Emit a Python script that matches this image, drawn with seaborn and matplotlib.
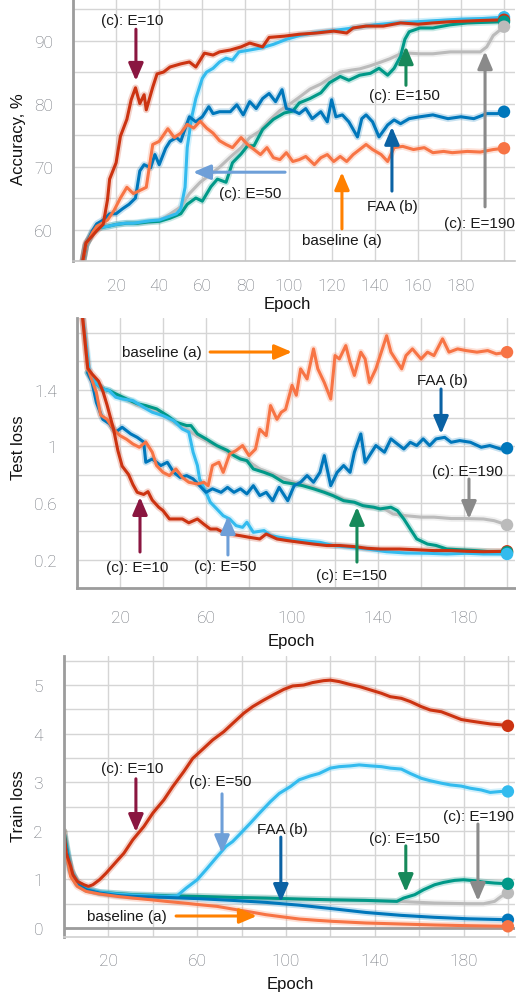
import numpy as np
import pandas as pd
import matplotlib
matplotlib.use("Agg")
import matplotlib.pyplot as plt
import seaborn as sns

# ---------------- data ----------------
SERIES = ["(c): E=190", "(c): E=150", "(c): E=50", "FAA (b)", "baseline (a)", "(c): E=10"]
COLORS = {"(c): E=190": "#BBBBBB", "(c): E=150": "#009988", "(c): E=50": "#33BBEE",
          "FAA (b)": "#0077BB", "baseline (a)": "#F77445", "(c): E=10": "#CC3311"}

# Accuracy (%)
acc_base_ep = [3, 6, 9, 11, 16, 19, 22, 25, 28, 31, 34, 37, 40, 44, 47, 50, 53, 56, 59, 62, 65, 68, 71, 74, 78, 81, 84, 87, 90, 93, 96, 99, 102, 105, 108, 112, 115, 118, 121, 124, 127, 130, 133, 136, 139, 143, 146, 149, 153, 158, 163, 167, 172, 176, 183, 189, 195, 200]
acc_base = [52, 57.5, 59.5, 60.5, 61.5, 63, 65, 66.7, 65.7, 66.2, 66.7, 73.5, 74, 76, 74.6, 75.3, 76.7, 76.1, 77.2, 76.1, 75.3, 74.1, 73.5, 73, 74.6, 73.5, 72.7, 71.9, 73, 71.4, 71.1, 72.2, 70.8, 71.1, 71.6, 70.3, 71.4, 71.9, 70.8, 71.6, 70.8, 71.9, 72.7, 73.5, 72.7, 71.9, 70.8, 73, 73.2, 72.7, 73, 72.2, 72.4, 72.2, 72.4, 72.3, 72.7, 72.9]
acc_faa_ep = [3, 6, 9, 11, 14, 17, 20, 23, 26, 29, 31, 33, 36, 38, 40, 43, 45, 48, 50, 52, 54, 57, 60, 63, 65, 68, 73, 76, 79, 82, 85, 88, 91, 94, 97, 99, 102, 105, 108, 111, 115, 118, 120, 122, 125, 128, 132, 134, 136, 139, 142, 146, 149, 152, 156, 161, 167, 174, 180, 186, 192, 197, 200]
acc_faa = [52, 57.5, 59.8, 60.9, 61.5, 62.5, 62.5, 63.3, 64, 65, 69.3, 70.3, 69.8, 71.9, 70.3, 72.9, 74, 74.6, 74, 76, 77.9, 77.1, 77.9, 79.5, 78.4, 78.7, 78.7, 79.8, 78.2, 80.3, 79.2, 80.8, 81.6, 80.3, 82.2, 79.2, 78.9, 78.4, 79.2, 77.6, 78.7, 77.1, 80.6, 77.9, 78.2, 77.1, 74.7, 77.6, 78.2, 77.1, 74.7, 76.6, 77.4, 76.8, 77.6, 77.9, 78.2, 77.6, 77.9, 77.6, 78.4, 78.4, 78.7]
acc_e10_ep = [3, 6, 9, 11, 14, 16, 17, 20, 22, 25, 27, 29, 31, 33, 34, 37, 39, 42, 45, 50, 54, 57, 61, 65, 68, 73, 78, 82, 88, 91, 98, 105, 113, 121, 127, 130, 136, 144, 152, 160, 167, 175, 183, 190, 200]
acc_e10 = [52, 57.9, 59, 59.8, 60.8, 64.7, 68, 70.6, 74.8, 77.5, 80.6, 82.5, 80, 81.4, 79, 82.6, 84.7, 85, 85.8, 86.3, 86.6, 85.8, 88, 87.7, 88.2, 88.5, 89, 89.6, 89, 90.5, 90.7, 91, 91.2, 91.5, 91.2, 92, 92.3, 92.3, 92.8, 92.6, 92.8, 93, 93.1, 93.2, 93.3]
acc_e50_ep = [3, 6, 9, 12, 16, 20, 24, 28, 32, 36, 40, 44, 48, 50, 52, 53, 55, 57, 60, 62, 65, 68, 71, 74, 77, 82, 87, 93, 99, 105, 113, 121, 130, 140, 150, 160, 170, 180, 190, 200]
acc_e50 = [52, 57.5, 59.5, 60.3, 60.5, 60.8, 61, 61, 61.2, 61.4, 61.5, 62, 62.5, 63.3, 66.7, 73, 77.7, 80.8, 84, 85, 85.6, 86.6, 87.2, 86.9, 88.2, 88.5, 88.8, 89.4, 90.2, 90.8, 91.3, 91.6, 92, 92.5, 92.8, 93, 93.2, 93.4, 93.5, 93.7]
acc_e150_ep = [3, 6, 9, 12, 16, 20, 25, 30, 35, 40, 45, 50, 53, 57, 60, 64, 67, 71, 74, 78, 81, 84, 88, 93, 98, 102, 105, 110, 115, 119, 124, 128, 133, 138, 142, 146, 149, 152, 154, 156, 161, 167, 175, 183, 200]
acc_e150 = [52, 57.5, 59.5, 60.3, 60.5, 60.8, 61, 61, 61.2, 61.3, 61.8, 62.5, 64, 65, 64.5, 66.8, 68, 67.5, 70.6, 72, 73.3, 73.3, 75.9, 77.5, 78.5, 78.8, 80.1, 80.8, 81.7, 83.3, 84.3, 83.7, 84.5, 84.8, 85.6, 84.5, 85.6, 87.5, 90.2, 91.4, 92, 92, 92.5, 92.8, 93]
acc_e190_ep = [3, 6, 9, 12, 16, 20, 25, 30, 35, 40, 43, 50, 54, 59, 64, 68, 73, 78, 82, 87, 91, 96, 101, 105, 110, 115, 119, 124, 129, 133, 138, 143, 147, 152, 156, 161, 167, 175, 183, 189, 192, 195, 200]
acc_e190 = [52, 57.5, 59.5, 60.3, 60.5, 60.8, 61, 61, 61.2, 61.4, 62, 63.6, 65.7, 67.5, 68.8, 69.9, 71.5, 73, 74.6, 75.7, 77.3, 78.9, 80, 81, 82.3, 83.1, 84, 85, 85.3, 85.5, 86, 86.6, 87.1, 87.9, 88, 87.9, 87.9, 88.2, 88.2, 88.2, 89, 90.8, 92.2]

# Test loss
tl_base_ep = [2, 5, 9, 11, 14, 17, 20, 23, 26, 29, 32, 35, 37, 40, 43, 46, 49, 52, 56, 59, 61, 63, 66, 68, 71, 74, 77, 80, 83, 85, 88, 90, 93, 95, 97, 100, 102, 104, 107, 110, 112, 115, 118, 120, 122, 125, 127, 129, 132, 134, 136, 139, 141, 144, 146, 149, 151, 153, 156, 160, 163, 166, 170, 173, 177, 181, 186, 191, 195, 200]
tl_base = [2.0, 1.55, 1.38, 1.22, 1.19, 1.12, 1.075, 1.05, 1.016, 0.993, 1.03, 0.958, 0.864, 0.816, 0.793, 0.84, 0.78, 0.746, 0.734, 0.746, 0.722, 0.864, 0.887, 0.816, 0.946, 0.97, 1.005, 0.934, 0.98, 1.12, 1.075, 1.287, 1.19, 1.24, 1.26, 1.43, 1.36, 1.546, 1.475, 1.687, 1.546, 1.45, 1.334, 1.64, 1.616, 1.71, 1.593, 1.5, 1.664, 1.616, 1.45, 1.546, 1.64, 1.78, 1.664, 1.593, 1.546, 1.64, 1.687, 1.616, 1.664, 1.64, 1.758, 1.664, 1.687, 1.675, 1.664, 1.675, 1.652, 1.664]
tl_faa_ep = [5, 7, 9, 12, 15, 18, 21, 25, 28, 31, 32, 35, 39, 42, 45, 48, 51, 54, 57, 60, 63, 67, 70, 73, 76, 79, 82, 85, 88, 91, 94, 98, 101, 104, 107, 110, 113, 115, 118, 121, 124, 127, 129, 132, 134, 136, 139, 143, 146, 149, 152, 155, 158, 161, 164, 167, 171, 174, 178, 183, 188, 192, 197, 200]
tl_faa = [1.52, 1.45, 1.31, 1.19, 1.16, 1.1, 1.134, 1.087, 1.063, 1.03, 0.887, 0.91, 0.864, 0.887, 0.816, 0.78, 0.793, 0.77, 0.722, 0.675, 0.7, 0.675, 0.71, 0.675, 0.7, 0.664, 0.722, 0.652, 0.675, 0.616, 0.71, 0.616, 0.722, 0.746, 0.793, 0.746, 0.816, 0.934, 0.722, 0.816, 0.864, 0.816, 0.958, 1.087, 0.887, 0.934, 1.005, 0.958, 1.052, 1.016, 0.981, 1.028, 1.005, 1.052, 1.005, 1.052, 1.063, 1.028, 1.04, 1.028, 0.993, 1.005, 0.981, 0.986]
tl_e10_ep = [2, 5, 7, 10, 12, 14, 17, 19, 21, 24, 26, 28, 31, 33, 35, 38, 40, 43, 46, 49, 52, 56, 59, 62, 65, 68, 71, 76, 80, 85, 88, 93, 98, 104, 110, 116, 122, 129, 135, 141, 150, 158, 166, 174, 181, 189, 200]
tl_e10 = [2.0, 1.55, 1.51, 1.46, 1.39, 1.29, 1.12, 0.97, 0.86, 0.80, 0.73, 0.675, 0.66, 0.68, 0.62, 0.57, 0.546, 0.487, 0.487, 0.487, 0.46, 0.487, 0.45, 0.416, 0.416, 0.393, 0.381, 0.369, 0.358, 0.346, 0.381, 0.346, 0.334, 0.322, 0.31, 0.30, 0.30, 0.292, 0.28, 0.275, 0.275, 0.27, 0.264, 0.264, 0.259, 0.256, 0.259]
tl_e50_ep = [2, 6, 9, 12, 15, 18, 21, 26, 31, 35, 40, 45, 49, 52, 54, 56, 57, 60, 62, 65, 68, 71, 74, 77, 79, 82, 87, 90, 94, 99, 105, 113, 119, 127, 135, 144, 153, 163, 172, 181, 189, 200]
tl_e50 = [2.0, 1.5, 1.44, 1.405, 1.393, 1.346, 1.334, 1.322, 1.275, 1.24, 1.216, 1.18, 1.122, 1.1, 0.958, 0.864, 0.77, 0.675, 0.605, 0.558, 0.51, 0.487, 0.44, 0.428, 0.464, 0.393, 0.405, 0.37, 0.358, 0.346, 0.334, 0.322, 0.30, 0.287, 0.275, 0.256, 0.247, 0.245, 0.24, 0.245, 0.24, 0.24]
tl_e150_ep = [5, 9, 12, 15, 18, 23, 28, 32, 37, 42, 46, 51, 53, 56, 60, 65, 70, 73, 76, 79, 82, 87, 91, 96, 101, 105, 110, 115, 119, 124, 129, 133, 138, 141, 146, 149, 152, 155, 158, 163, 167, 172, 178, 185, 192, 200]
tl_e150 = [1.52, 1.44, 1.405, 1.393, 1.37, 1.334, 1.3, 1.287, 1.264, 1.216, 1.17, 1.146, 1.146, 1.087, 1.052, 1.005, 0.97, 0.934, 0.91, 0.899, 0.84, 0.816, 0.793, 0.746, 0.734, 0.722, 0.7, 0.675, 0.652, 0.616, 0.605, 0.581, 0.57, 0.558, 0.57, 0.546, 0.487, 0.416, 0.346, 0.31, 0.30, 0.275, 0.27, 0.264, 0.256, 0.252]
tl_e190_ep = [5, 9, 12, 15, 18, 23, 28, 32, 37, 42, 46, 51, 56, 60, 65, 70, 75, 80, 85, 90, 95, 100, 105, 110, 115, 120, 125, 130, 135, 143, 147, 153, 160, 166, 174, 181, 189, 194, 200]
tl_e190 = [1.52, 1.44, 1.40, 1.39, 1.36, 1.33, 1.29, 1.27, 1.25, 1.20, 1.16, 1.12, 1.07, 1.04, 1.0, 0.96, 0.92, 0.89, 0.84, 0.81, 0.78, 0.75, 0.73, 0.71, 0.68, 0.65, 0.62, 0.60, 0.57, 0.558, 0.522, 0.51, 0.50, 0.50, 0.49, 0.49, 0.487, 0.475, 0.445]

# Train loss
tr_base_ep = [0, 3, 6, 10, 16, 24, 31, 39, 46, 54, 61, 69, 76, 84, 91, 99, 106, 114, 121, 136, 152, 167, 182, 200]
tr_base = [1.78, 1.06, 0.856, 0.753, 0.70, 0.65, 0.616, 0.582, 0.548, 0.514, 0.48, 0.445, 0.39, 0.33, 0.274, 0.226, 0.185, 0.158, 0.137, 0.103, 0.082, 0.062, 0.048, 0.035]
tr_faa_ep = [0, 3, 6, 10, 16, 24, 31, 46, 61, 76, 91, 106, 121, 136, 152, 167, 182, 200]
tr_faa = [1.88, 1.16, 0.9, 0.79, 0.72, 0.67, 0.65, 0.63, 0.603, 0.568, 0.527, 0.47, 0.397, 0.32, 0.26, 0.22, 0.19, 0.17]
tr_e10_ep = [0, 1, 3, 4, 6, 9, 11, 13, 16, 19, 23, 27, 31, 36, 40, 45, 49, 54, 58, 63, 67, 72, 76, 81, 85, 90, 94, 99, 103, 108, 112, 117, 120, 124, 129, 133, 138, 143, 147, 152, 156, 161, 165, 170, 174, 179, 183, 188, 192, 197, 200]
tr_e10 = [1.99, 1.54, 1.27, 1.1, 0.96, 0.89, 0.856, 0.89, 0.993, 1.13, 1.336, 1.54, 1.815, 2.09, 2.363, 2.637, 2.91, 3.22, 3.49, 3.7, 3.87, 4.04, 4.21, 4.42, 4.555, 4.69, 4.79, 4.91, 4.98, 5.0, 5.05, 5.09, 5.1, 5.07, 5.01, 4.97, 4.9, 4.83, 4.76, 4.726, 4.66, 4.555, 4.486, 4.45, 4.38, 4.29, 4.26, 4.226, 4.2, 4.18, 4.16]
tr_e50_ep = [0, 3, 6, 10, 16, 24, 31, 39, 46, 51, 55, 60, 64, 69, 73, 76, 79, 84, 88, 93, 97, 102, 106, 111, 115, 120, 124, 129, 133, 138, 143, 147, 152, 156, 161, 165, 170, 174, 179, 183, 188, 192, 197, 200]
tr_e50 = [1.88, 1.2, 0.92, 0.8, 0.733, 0.70, 0.678, 0.664, 0.65, 0.664, 0.82, 0.993, 1.2, 1.47, 1.68, 1.78, 1.92, 2.16, 2.36, 2.6, 2.77, 2.91, 3.05, 3.13, 3.18, 3.29, 3.32, 3.336, 3.356, 3.336, 3.32, 3.29, 3.27, 3.18, 3.08, 3.03, 2.98, 2.945, 2.92, 2.877, 2.84, 2.79, 2.81, 2.81]
tr_e150_ep = [0, 3, 6, 10, 16, 31, 46, 61, 76, 91, 106, 121, 136, 150, 153, 158, 162, 167, 171, 176, 180, 185, 189, 194, 200]
tr_e150 = [1.99, 1.2, 0.92, 0.8, 0.733, 0.685, 0.664, 0.65, 0.63, 0.616, 0.596, 0.58, 0.568, 0.548, 0.616, 0.685, 0.788, 0.89, 0.938, 0.98, 0.993, 0.973, 0.945, 0.925, 0.91]
tr_e190_ep = [0, 3, 6, 10, 16, 31, 46, 61, 76, 91, 106, 121, 136, 150, 167, 182, 189, 194, 197, 200]
tr_e190 = [1.99, 1.2, 0.92, 0.8, 0.733, 0.685, 0.664, 0.65, 0.63, 0.616, 0.596, 0.58, 0.568, 0.548, 0.514, 0.50, 0.50, 0.548, 0.65, 0.72]

x_ticks = [0, 20, 40, 60, 80, 100, 120, 140, 160, 180, 200]
acc_xlabels = ["", "20", "40", "60", "80", "100", "120", "140", "160", "180", ""]
loss_xlabels = ["", "20", "", "60", "", "100", "", "140", "", "180", ""]
acc_yticks = [55, 60, 65, 70, 75, 80, 85, 90, 95]
acc_ylabels = ["", "60", "", "70", "", "80", "", "90", ""]
tl_yticks = [0, 0.2, 0.4, 0.6, 0.8, 1.0, 1.2, 1.4, 1.6, 1.8]
tl_ylabels = ["", "0.2", "", "0.6", "", "1", "", "1.4", "", ""]
tr_yticks = [0, 0.5, 1, 1.5, 2, 2.5, 3, 3.5, 4, 4.5, 5, 5.5]
tr_ylabels = ["0", "", "1", "", "2", "", "3", "", "4", "", "5", ""]


def frame(pairs):
    rows = []
    for name, (ep, val) in zip(SERIES, pairs):
        for e, v in zip(ep, val):
            rows.append((name, e, v))
    return pd.DataFrame(rows, columns=["series", "epoch", "value"])


acc_df = frame([(acc_e190_ep, acc_e190), (acc_e150_ep, acc_e150), (acc_e50_ep, acc_e50),
                (acc_faa_ep, acc_faa), (acc_base_ep, acc_base), (acc_e10_ep, acc_e10)])
tl_df = frame([(tl_e190_ep, tl_e190), (tl_e150_ep, tl_e150), (tl_e50_ep, tl_e50),
               (tl_faa_ep, tl_faa), (tl_base_ep, tl_base), (tl_e10_ep, tl_e10)])
tr_df = frame([(tr_e190_ep, tr_e190), (tr_e150_ep, tr_e150), (tr_e50_ep, tr_e50),
               (tr_faa_ep, tr_faa), (tr_base_ep, tr_base), (tr_e10_ep, tr_e10)])

# ---------------- style ----------------
sns.set_theme(style="white")
plt.rcParams["font.family"] = ["Liberation Sans", "DejaVu Sans"]

GRID = "#d5d5d5"
SPINE = "#9c9c9c"
TICKC = "#6c7078"
PX = 72 / 100.0  # pixel -> point at dpi 100

fig = plt.figure(figsize=(5.16, 9.95), dpi=100)
W, H = 516.0, 995.0


def add_ax(left, top, right, bottom):
    return fig.add_axes([left / W, (H - bottom) / H, (right - left) / W, (bottom - top) / H])


def draw(ax, df):
    sns.lineplot(data=df, x="epoch", y="value", hue="series", hue_order=SERIES,
                 palette=COLORS, estimator=None, lw=4.8, alpha=0.22, legend=False, ax=ax)
    sns.lineplot(data=df, x="epoch", y="value", hue="series", hue_order=SERIES,
                 palette=COLORS, estimator=None, lw=2.2, legend=False, ax=ax)
    last = df.sort_values("epoch").groupby("series", sort=False).tail(1)
    sns.scatterplot(data=last, x="epoch", y="value", hue="series", hue_order=SERIES,
                    palette=COLORS, s=80, edgecolor="none", legend=False, ax=ax,
                    zorder=6, clip_on=False)


def style(ax, xlim, ylim, xlabels, yticks, ylabels, xtl, ytl, xpad, ypad, bottom_dark):
    ax.set_xlim(*xlim)
    ax.set_ylim(*ylim)
    ax.set_xticks(x_ticks)
    ax.set_xticklabels(xlabels)
    ax.set_yticks(yticks)
    ax.set_yticklabels(ylabels)
    ax.grid(True, color=GRID, lw=1.0)
    ax.set_axisbelow(True)
    for s in ["top", "right"]:
        ax.spines[s].set_visible(False)
    ax.spines["left"].set_color(SPINE)
    ax.spines["left"].set_linewidth(2.0)
    ax.spines["bottom"].set_color(SPINE if bottom_dark else "#c4c4c4")
    ax.spines["bottom"].set_linewidth(2.0 if bottom_dark else 1.2)
    ax.tick_params(axis="x", length=xtl * PX, width=1.0, color=GRID, pad=xpad * PX,
                   labelcolor=TICKC, labelsize=12.5)
    ax.tick_params(axis="y", length=ytl * PX, width=1.0, color=GRID, pad=ypad * PX,
                   labelcolor=TICKC, labelsize=12.5)
    for lab in ax.get_xticklabels() + ax.get_yticklabels():
        lab.set_family(["Roboto", "DejaVu Sans"])
        lab.set_fontweight("light")


def arrow(ax, tail, tip, color):
    ax.annotate("", xy=tip, xytext=tail,
                arrowprops=dict(arrowstyle="-|>,head_length=0.75,head_width=0.32",
                                color=color, lw=2.2, shrinkA=0, shrinkB=0,
                                mutation_scale=14), zorder=8)


def label(ax, x, y, s):
    ax.text(x, y, s, ha="center", va="center", fontsize=11, color="#1a1a1a", zorder=9)


C_E10, C_E50, C_E150, C_BASE, C_FAA, C_E190 = "#8a1640", "#6e9fd8", "#17895a", "#ff8000", "#0b62a4", "#8a8a8a"

# ---------------- panel 1: accuracy ----------------
ax1 = add_ax(73, 0, 515, 262)
draw(ax1, acc_df)
style(ax1, (0, 205.1), (55, 96.6), acc_xlabels, acc_yticks, acc_ylabels, 10, 11, 7, 9, False)
ax1.set_xlabel("Epoch", fontsize=12, color="#111111")
ax1.set_ylabel("Accuracy, %", fontsize=12, color="#111111")
ax1.xaxis.set_label_coords(0.484, -0.135)
ax1.yaxis.set_label_coords((26 - 73) / 442.0, 0.469)
label(ax1, 27.4, 93.25, "(c): E=10");   arrow(ax1, (29.2, 91.8), (29.2, 83.6), C_E10)
label(ax1, 154, 81.3, "(c): E=150");   arrow(ax1, (154.5, 82.9), (154.5, 89.1), C_E150)
label(ax1, 82.1, 65.8, "(c): E=50");    arrow(ax1, (98.4, 69.1), (55.7, 69.1), C_E50)
label(ax1, 124.8, 58.3, "baseline (a)"); arrow(ax1, (124.8, 60.1), (124.8, 69.1), C_BASE)
label(ax1, 148, 63.7, "FAA (b)");      arrow(ax1, (148, 66.1), (148, 76.3), C_FAA)
label(ax1, 188.4, 61.0, "(c): E=190"); arrow(ax1, (191.2, 63.6), (191.2, 88.3), C_E190)

# ---------------- panel 2: test loss ----------------
ax2 = add_ax(77, 319, 515, 589)
draw(ax2, tl_df)
style(ax2, (0, 203.7), (0, 1.905), loss_xlabels, tl_yticks, tl_ylabels, 14, 12, 8, 8, True)
ax2.set_xlabel("Epoch", fontsize=12, color="#111111")
ax2.set_ylabel("Test loss", fontsize=12, color="#111111")
ax2.xaxis.set_label_coords(0.489, -0.165)
ax2.yaxis.set_label_coords((26 - 77) / 438.0, 0.524)
label(ax2, 39.5, 1.665, "baseline (a)"); arrow(ax2, (61.9, 1.665), (100, 1.665), C_BASE)
label(ax2, 169.8, 1.468, "FAA (b)");     arrow(ax2, (169.3, 1.404), (169.3, 1.087), C_FAA)
label(ax2, 181.4, 0.826, "(c): E=190");  arrow(ax2, (182.3, 0.769), (182.3, 0.487), C_E190)
label(ax2, 28.1, 0.148, "(c): E=10");    arrow(ax2, (29.3, 0.254), (29.3, 0.642), C_E10)
label(ax2, 68.8, 0.155, "(c): E=50");    arrow(ax2, (70.2, 0.233), (70.2, 0.508), C_E50)
label(ax2, 127.4, 0.092, "(c): E=150");  arrow(ax2, (130.2, 0.183), (130.2, 0.572), C_E150)

# ---------------- panel 3: train loss ----------------
ax3 = add_ax(64, 657, 515, 938)
draw(ax3, tr_df)
style(ax3, (0, 203.2), (-0.185, 5.597), loss_xlabels, tr_yticks, tr_ylabels, 8, 12, 8, 9, False)
ax3.spines["bottom"].set_color("#d0d0d0")
ax3.axhline(0, color=SPINE, lw=2.0, zorder=1.5)
ax3.set_xlabel("Epoch", fontsize=12, color="#111111")
ax3.set_ylabel("Train loss", fontsize=12, color="#111111")
ax3.xaxis.set_label_coords(0.501, -0.139)
ax3.yaxis.set_label_coords((26 - 64) / 451.0, 0.47)
label(ax3, 30.9, 3.29, "(c): E=10");     arrow(ax3, (32.4, 3.07), (32.4, 1.975), C_E10)
label(ax3, 70.3, 3.02, "(c): E=50");     arrow(ax3, (71.2, 2.76), (71.2, 1.54), C_E50)
label(ax3, 98.2, 2.04, "FAA (b)");       arrow(ax3, (97.7, 1.87), (97.7, 0.535), C_FAA)
label(ax3, 153.6, 1.85, "(c): E=150");   arrow(ax3, (154, 1.69), (154, 0.74), C_E150)
label(ax3, 186.9, 2.30, "(c): E=190");   arrow(ax3, (186.5, 2.14), (186.5, 0.556), C_E190)
label(ax3, 28.4, 0.247, "baseline (a)"); arrow(ax3, (50.5, 0.247), (86.9, 0.247), C_BASE)

fig.savefig("out.png", dpi=100, facecolor="white")
